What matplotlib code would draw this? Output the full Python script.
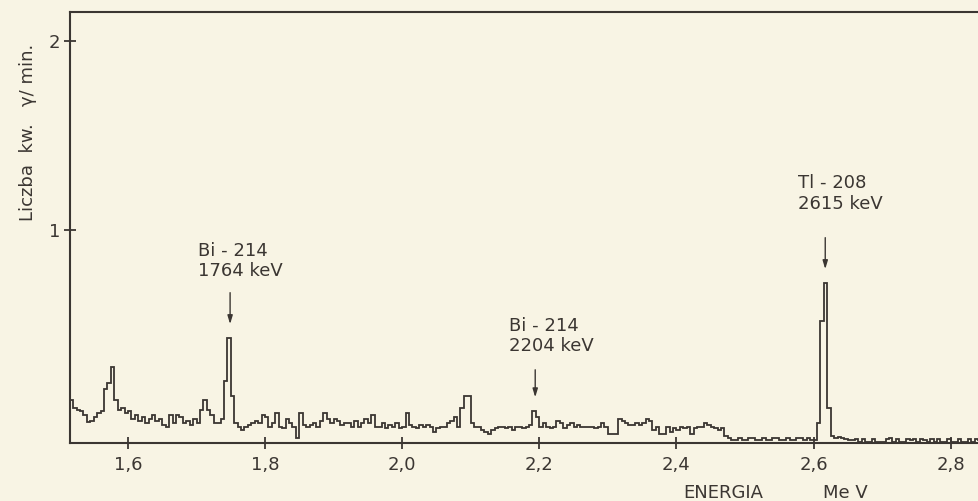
import numpy as np
import matplotlib
matplotlib.use("Agg")
import matplotlib.pyplot as plt

# spectrum: channel width 0.005 MeV starting at 1.515 MeV
E_START = 1.515
E_STEP = 0.005

# 1.515 - 1.730
counts_a = [0.10, 0.06, 0.05, 0.04, 0.02, -0.015, -0.01, 0.01, 0.03, 0.04,
            0.16, 0.19, 0.275, 0.10, 0.05, 0.06, 0.03, 0.04, 0.00, 0.02,
            -0.01, 0.01, -0.02, 0.00, 0.02, -0.01, 0.00, -0.03, -0.04, 0.02,
            -0.02, 0.02, 0.01, -0.02, -0.01, -0.03, 0.00, -0.02, 0.05, 0.10,
            0.05, 0.02, -0.02, -0.02]
# Bi-214 1764 keV peak, 1.735 - 1.750
peak_bi1 = [0.00, 0.20, 0.43, 0.12]
# 1.755 - 1.950
counts_b = [-0.02, -0.04, -0.06, -0.04, -0.03, -0.02, -0.01, -0.02, 0.02, 0.01,
            -0.04, -0.02, 0.03, -0.04, -0.05, 0.00, -0.02, -0.04, -0.10, 0.03,
            -0.03, -0.04, -0.03, -0.02, -0.04, -0.01, 0.03, 0.00, -0.02, 0.00,
            -0.01, -0.03, -0.02, -0.02, -0.04, -0.01, -0.04, -0.02, 0.00, -0.02]
# 1.955 - 2.170
counts_c = [0.02, -0.04, -0.04, -0.02, -0.05, -0.03, -0.04, -0.02, -0.05, -0.04,
            0.03, -0.03, -0.04, -0.05, -0.03, -0.04, -0.03, -0.04, -0.07, -0.05,
            -0.04, -0.04, -0.02, -0.01, 0.01, -0.04, 0.06, 0.12, 0.12, -0.02,
            -0.04, -0.04, -0.06, -0.07, -0.08, -0.06, -0.05, -0.04, -0.04, -0.05,
            -0.04, -0.06, -0.04, -0.04]
# 2.175 - 2.390 (Bi-214 2204 keV)
counts_d = [-0.05, -0.04, -0.03, 0.04, 0.01, -0.04, -0.02, -0.04, -0.05, -0.04,
            -0.01, -0.02, -0.05, -0.03, -0.02, -0.04, -0.03, -0.04, -0.04, -0.04,
            -0.04, -0.05, -0.04, -0.02, -0.04, -0.08, -0.08, -0.08, 0.00, -0.01,
            -0.02, -0.03, -0.03, -0.02, -0.03, -0.02, 0.00, -0.01, -0.06, -0.04,
            -0.08, -0.08, -0.04, -0.07]
# 2.395 - 2.475
counts_e = [-0.05, -0.06, -0.04, -0.05, -0.04, -0.08, -0.05, -0.04, -0.04, -0.02,
            -0.03, -0.04, -0.05, -0.06, -0.05, -0.09, -0.10]
# 2.480 - 2.600
tail_a = [-0.11, -0.11, -0.10, -0.11, -0.11, -0.10, -0.10, -0.11, -0.11, -0.10,
          -0.11, -0.11, -0.10, -0.10, -0.11, -0.11, -0.10, -0.11, -0.11, -0.10,
          -0.10, -0.11, -0.10, -0.11, -0.11]
# Tl-208 2615 keV peak, 2.605 - 2.625
peak_tl = [-0.02, 0.52, 0.72, 0.06, -0.09]
# 2.630 - 2.845
tail_b = [-0.10, -0.095, -0.10, -0.105, -0.11, -0.11, -0.105, -0.12, -0.105, -0.12,
          -0.12, -0.105, -0.12, -0.12, -0.12, -0.105, -0.10, -0.12, -0.105, -0.12,
          -0.12, -0.105, -0.11, -0.105, -0.12, -0.105, -0.11, -0.12, -0.105, -0.12,
          -0.105, -0.12, -0.12, -0.105, -0.12, -0.12, -0.105, -0.12, -0.12, -0.105,
          -0.12, -0.105, -0.11, -0.12]

counts = np.array(counts_a + peak_bi1 + counts_b + counts_c + counts_d
                  + counts_e + tail_a + peak_tl + tail_b)
edges = E_START + E_STEP * np.arange(len(counts) + 1)

xticks = [1.6, 1.8, 2.0, 2.2, 2.4, 2.6, 2.8]
xtick_labels = ["1,6", "1,8", "2,0", "2,2", "2,4", "2,6", "2,8"]
yticks = [1, 2]
ytick_labels = ["1", "2"]

# peak annotations: label, arrow energy, arrow tail / tip, text anchor
peaks = [
    ("Bi - 214\n1764 keV", 1.749, 0.683, 0.487, 1.702, 0.836),
    ("Bi - 214\n2204 keV", 2.194, 0.275, 0.100, 2.156, 0.439),
    ("Tl - 208\n2615 keV", 2.617, 0.974, 0.778, 2.577, 1.193),
]

paper = "#f8f4e4"
ink = "#3b3632"

fig = plt.figure(figsize=(9.79, 5.01), dpi=100, facecolor=paper)
ax = fig.add_axes([70 / 979, 58 / 501, 915 / 979, 431 / 501])
ax.set_facecolor(paper)

ax.stairs(counts, edges, baseline=None, color=ink, lw=1.3)

ax.set_xlim(1.5155, 2.85)
ax.set_ylim(-0.127, 2.153)

for s in ["left", "top", "bottom"]:
    ax.spines[s].set_color(ink)
    ax.spines[s].set_linewidth(1.5)
ax.spines["right"].set_visible(False)

ax.set_xticks(xticks, xtick_labels)
ax.set_yticks(yticks, ytick_labels)
ax.tick_params(axis="x", direction="inout", length=8, width=1.3, color=ink,
               labelsize=13, labelcolor=ink, pad=5)
ax.tick_params(axis="y", direction="inout", length=8, width=1.3, color=ink,
               labelsize=13, labelcolor=ink, pad=3)

for label, xe, y0, y1, tx, ty in peaks:
    ax.annotate("", xy=(xe, y1), xytext=(xe, y0),
                arrowprops=dict(arrowstyle="-|>,head_length=0.5,head_width=0.15",
                                color=ink, lw=1.0))
    ax.text(tx, ty, label, ha="left", va="center", fontsize=13, color=ink,
            linespacing=1.15)

fig.text(28 / 979, 1 - 132 / 501, "Liczba  kw.   \u03b3/ min.", rotation=90,
         ha="center", va="center", fontsize=13, color=ink)
fig.text(683 / 979, 1 - 493 / 501, "ENERGIA", ha="left", va="center",
         fontsize=13, color=ink)
fig.text(823 / 979, 1 - 493 / 501, "Me V", ha="left", va="center",
         fontsize=13, color=ink)

fig.savefig("out.png", dpi=100, facecolor=paper)
